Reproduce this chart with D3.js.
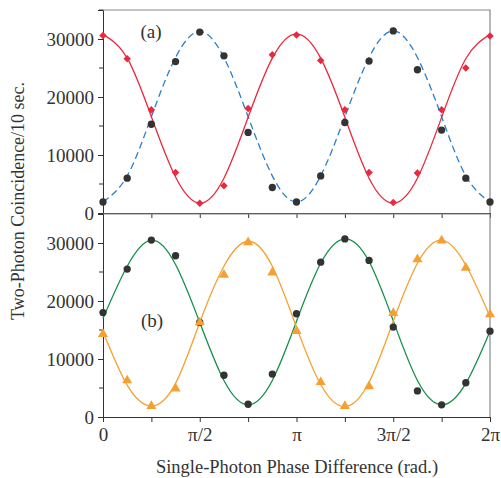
<!DOCTYPE html>
<html lang="en">
<head>
    <meta charset="UTF-8">
    <title>Two-photon interference</title>
    <script src="https://d3js.org/d3.v7.min.js"></script>
    <style>
        body { margin: 0; background: #fff; }
        svg { display: block; }
        text { font-family: "Liberation Serif", "Times New Roman", serif; fill: #333; }
    </style>
</head>
<body>
    <div id="chart"></div>
    <script>
        // phase steps in units of pi/8
        var steps = d3.range(0, 17);

        // panel (a) measured points
        var aRed   = [30600, 26600, 17800, 7000, 1700, 4700, 18000, 27300, 30700, 26300, 17800, 7000, 1800, 6900, 17800, 25000, 30500];
        var aBlack = [1900, 6000, 15300, 26100, 31200, 27100, 13900, 4400, 1900, 6400, 15600, 26200, 31400, 24700, 14300, 6000, 1900];
        // panel (a) fit curves, read at the same steps
        var aRedFit  = [30800, 26700, 16600, 6200, 1700, 6000, 16500, 26700, 30900, 26700, 16500, 6000, 1700, 6000, 16500, 26600, 30800];
        var aBlueFit = [1900, 6400, 16600, 26800, 31300, 26800, 16600, 6400, 1900, 6400, 16600, 26800, 31400, 26800, 16600, 6400, 1900];

        // panel (b) measured points
        var bBlack  = [18000, 25500, 30500, 27800, 16300, 7200, 2200, 7400, 17800, 26700, 30700, 27000, 15500, 4500, 2100, 5900, 14800];
        var bOrange = [14300, 6300, 1900, 4900, 16300, 24500, 30100, 24900, 14800, 6000, 1900, 5300, 17900, 27200, 30400, 25700, 17700];
        // panel (b) fit curves
        var bGreenFit  = [17000, 26000, 30500, 26300, 16300, 6300, 2100, 6300, 16500, 26500, 30700, 26800, 16600, 6300, 2100, 5800, 14800];
        var bOrangeFit = [14700, 5500, 1900, 5800, 16300, 26000, 30300, 26000, 15500, 5600, 1800, 6000, 16500, 26500, 30500, 26200, 17300];

        var yTicks = [0, 10000, 20000, 30000];
        var yMinor = [5000, 15000, 25000, 35000];
        var xTickLabels = ["0", "\u03c0/2", "\u03c0", "3\u03c0/2", "2\u03c0"];

        var W = 501, H = 478;
        var svg = d3.select("#chart").append("svg").attr("width", W).attr("height", H);

        var x = d3.scaleLinear().domain([0, 16]).range([103, 490]);
        var yA = d3.scaleLinear().domain([0, 35000]).range([213, 10]);
        var yB = d3.scaleLinear().domain([0, 35000]).range([417, 214]);

        function drawPanel(y, showXLabels) {
            var g = svg.append("g");
            // frame (top, right)
            g.append("path")
                .attr("d", "M" + x(0) + "," + y(35000) + "H" + x(16) + "V" + y(0))
                .attr("fill", "none").attr("stroke", "#888").attr("stroke-width", 1.2);

            var yAxis = d3.axisLeft(y).tickValues(yTicks).tickSize(5).tickPadding(4).tickFormat(d3.format("d"));
            var ya = g.append("g").attr("transform", "translate(" + x(0) + ",0)").call(yAxis);
            ya.selectAll("text").style("font-size", "19px").attr("fill", "#333");
            ya.append("g").selectAll("line").data(yMinor).join("line")
                .attr("x1", 0).attr("x2", -4).attr("y1", y).attr("y2", y).attr("stroke", "#333");

            var xAxis = d3.axisBottom(x).tickValues(d3.range(0, 17, 2)).tickSize(5).tickPadding(6)
                .tickFormat(function (d) { return showXLabels && d % 4 === 0 ? xTickLabels[d / 4] : ""; });
            var xa = g.append("g").attr("transform", "translate(0," + y(0) + ")").call(xAxis);
            xa.selectAll("text").style("font-size", "19px").attr("fill", "#333");

            g.selectAll(".domain").attr("stroke", "#333");
            g.selectAll(".tick line").attr("stroke", "#333");
            return g;
        }

        var gA = drawPanel(yA, false);
        var gB = drawPanel(yB, true);

        function curve(g, y, vals, color, dash) {
            var line = d3.line().x(function (d, i) { return x(steps[i]); }).y(function (d) { return y(d); })
                .curve(d3.curveNatural);
            g.append("path").datum(vals).attr("d", line)
                .attr("fill", "none").attr("stroke", color).attr("stroke-width", 1.3)
                .attr("stroke-dasharray", dash || null);
        }

        function marks(g, y, vals, color, type, size) {
            g.append("g").selectAll("path").data(vals).join("path")
                .attr("transform", function (d, i) {
                    return "translate(" + x(steps[i]) + "," + y(d) + ")" + (type === d3.symbolSquare ? " rotate(45)" : "");
                })
                .attr("d", d3.symbol().type(type).size(size))
                .attr("fill", color);
        }

        // panel (a)
        curve(gA, yA, aBlueFit, "#2a7fcc", "7,4");
        curve(gA, yA, aRedFit, "#e8293f");
        marks(gA, yA, aRed, "#e8293f", d3.symbolSquare, 28);
        marks(gA, yA, aBlack, "#333", d3.symbolCircle, 42);
        gA.append("text").attr("x", 151).attr("y", 38).attr("text-anchor", "middle")
            .style("font-size", "19px").text("(a)");

        // panel (b)
        curve(gB, yB, bGreenFit, "#14904c");
        curve(gB, yB, bOrangeFit, "#f5a030");
        marks(gB, yB, bBlack, "#333", d3.symbolCircle, 42);
        marks(gB, yB, bOrange, "#f5a030", d3.symbolTriangle, 44);
        gB.append("text").attr("x", 152).attr("y", 327).attr("text-anchor", "middle")
            .style("font-size", "19px").text("(b)");

        // axis titles
        svg.append("text").attr("x", 297).attr("y", 473).attr("text-anchor", "middle")
            .style("font-size", "18.5px").text("Single-Photon Phase Difference (rad.)");
        svg.append("text").attr("transform", "translate(24,201) rotate(-90)").attr("text-anchor", "middle")
            .style("font-size", "18px").text("Two-Photon Coincidence/10 sec.");
    </script>
</body>
</html>
